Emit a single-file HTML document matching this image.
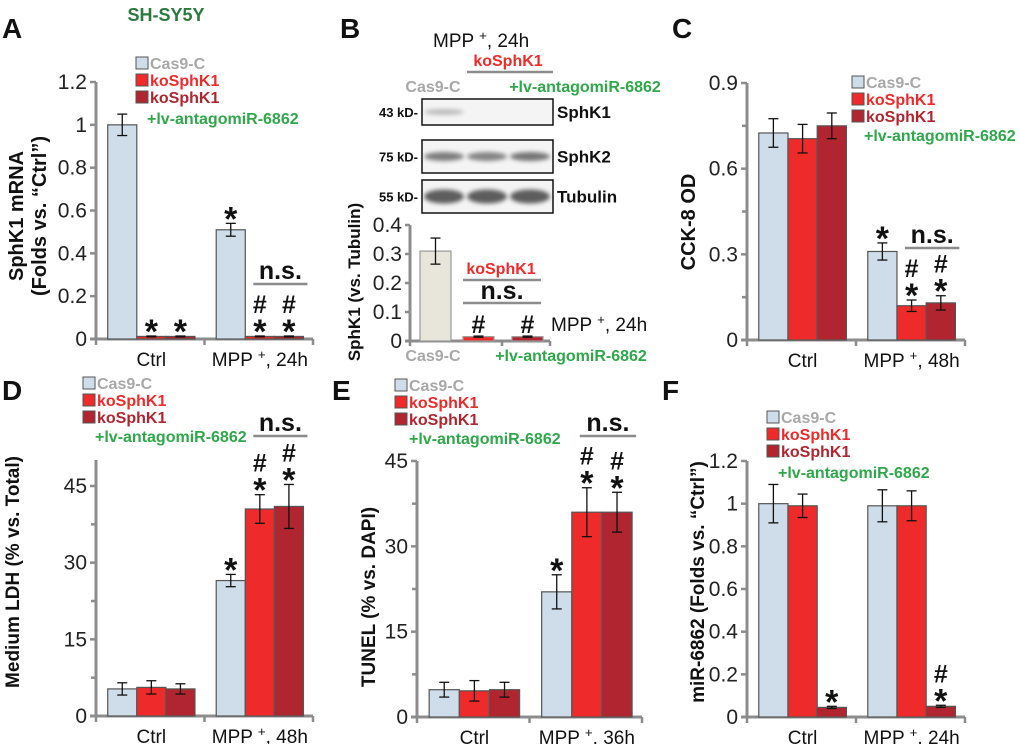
<!DOCTYPE html>
<html><head><meta charset="utf-8">
<style>
html,body{margin:0;padding:0;background:#fff;}
svg{display:block;font-family:"Liberation Sans",Arial,sans-serif;}
</style></head>
<body>
<svg id="fig" width="1020" height="744" viewBox="0 0 1020 744" xmlns="http://www.w3.org/2000/svg">
<defs><filter id="bl" x="-20%" y="-50%" width="140%" height="200%"><feGaussianBlur stdDeviation="2.2"/></filter></defs>
</svg>
<script>
// ---------- data ----------
const groupsA = ["Ctrl", "MPP+, 24h"];
const valsA = [1.0, 0.012, 0.012, 0.51, 0.012, 0.012];
const errA = [0.05, 0.002, 0.002, 0.03, 0.002, 0.002];
const ticksA = [0, 0.2, 0.4, 0.6, 0.8, 1, 1.2];
const marksA = ["", "*", "*", "*", "#*", "#*"];

const catsB = ["Cas9-C", "koSphK1", "koSphK1+lv-antagomiR-6862"];
const valsB = [0.31, 0.015, 0.015];
const errB = [0.045, 0.002, 0.002];
const ticksB = [0, 0.1, 0.2, 0.3, 0.4];
const marksB = ["", "#", "#"];

const groupsC = ["Ctrl", "MPP+, 48h"];
const valsC = [0.725, 0.705, 0.75, 0.31, 0.12, 0.13];
const errC = [0.05, 0.05, 0.045, 0.03, 0.02, 0.025];
const ticksC = [0, 0.3, 0.6, 0.9];
const marksC = ["", "", "", "*", "#*", "#*"];

const groupsD = ["Ctrl", "MPP+, 48h"];
const valsD = [5.3, 5.6, 5.3, 26.5, 40.5, 41];
const errD = [1.2, 1.3, 1.0, 1.2, 2.8, 4.3];
const ticksD = [0, 15, 30, 45];
const marksD = ["", "", "", "*", "#*", "#*"];

const groupsE = ["Ctrl", "MPP+, 36h"];
const valsE = [4.8, 4.6, 4.8, 22, 36, 36];
const errE = [1.3, 1.8, 1.3, 3, 4.3, 3.5];
const ticksE = [0, 15, 30, 45];
const marksE = ["", "", "", "*", "#*", "#*"];

const groupsF = ["Ctrl", "MPP+, 24h"];
const valsF = [1.0, 0.99, 0.045, 0.99, 0.99, 0.05];
const errF = [0.09, 0.055, 0.005, 0.075, 0.07, 0.005];
const ticksF = [0, 0.2, 0.4, 0.6, 0.8, 1, 1.2];
const marksF = ["", "", "*", "", "", "#*"];

// ---------- helpers ----------
const NS = "http://www.w3.org/2000/svg";
const svg = document.getElementById("fig");
const COLORS = ["#cfdce9", "#ee2a2a", "#b0252f"];
const GREEN = "#2ea84a", GRAY = "#a8a8a8", AX = "#8c8c8c";
function el(tag, attrs, parent, text) {
  const e = document.createElementNS(NS, tag);
  for (const k in attrs) e.setAttribute(k, attrs[k]);
  if (text !== undefined) e.textContent = text;
  (parent || svg).appendChild(e);
  return e;
}
function grp(name, parent) {
  const g = el("g", {}, parent);
  
  
  return g;
}
function mppLabel(g, x, y, txt, size, anchor) {
  const parts = txt.split("+");
  const t = el("text", {x: x, y: y, "font-size": size, "text-anchor": anchor || "middle", fill: "#111"}, g);
  if (parts.length > 1) {
    el("tspan", {}, t, parts[0] + " ");
    el("tspan", {dy: -7, "font-size": size * 0.7}, t, "+");
    el("tspan", {dy: 7}, t, parts[1]);
  } else t.textContent = txt;
  return t;
}
function yLabel(g, x, y, lines, size) {
  const fs = size || 19;
  lines.forEach((l, i) => {
    const t = el("text", {x: 0, y: 0, "font-size": fs, "font-weight": "bold", "text-anchor": "middle", fill: "#111",
      transform: `translate(${x + fs * 0.36 + i * 23},${y}) rotate(-90)`}, g, l);
    
    
  });
}
function legend(g, x, y) {
  const items = [["Cas9-C", GRAY, COLORS[0]], ["koSphK1", "#ee2a2a", COLORS[1]], ["koSphK1", "#b0252f", COLORS[2]]];
  items.forEach((it, i) => {
    const lg = grp("legend-entry", g);
    el("rect", {x: x, y: y + i * 17 - 6, width: 12, height: 12, fill: it[2], stroke: "#555", "stroke-width": 1}, lg);
    el("text", {x: x + 14, y: y + i * 17 + 6, "font-size": 16, "font-weight": "bold", fill: it[1]}, lg, it[0]);
  });
}
function star(g, x, yTop, mark) {
  let base = yTop - 3;
  if (mark.includes("*")) {
    const s = el("text", {x: x, y: base + 10, "font-size": 34, "font-weight": "bold", "text-anchor": "middle", fill: "#111"}, g, "*");
    
    
    base -= 20;
  } else base -= 2;
  if (mark.includes("#")) {
    const h = el("text", {x: x, y: base, "font-size": 25, "font-weight": "bold", "text-anchor": "middle", fill: "#111"}, g, "#");
    
    
  }
}
function chart(c) {
  const g = grp(c.name);
  const y = v => c.y0 - v / c.ymax * (c.y0 - c.yTop);
  const w = c.x1 - c.x0;
  const ya = el("line", {x1: c.x0, y1: c.y0 + 1, x2: c.x0, y2: c.axisTop, stroke: AX, "stroke-width": 3}, g);
   
  const xa = el("line", {x1: c.x0 - 6, y1: c.y0, x2: c.x1, y2: c.y0, stroke: AX, "stroke-width": 3}, g);
   
  c.ticks.forEach(t => {
    el("line", {x1: c.x0 - 6, y1: y(t), x2: c.x0, y2: y(t), stroke: AX, "stroke-width": 2.5}, g);
    const tl = el("text", {x: c.x0 - 9, y: y(t) + 7, "font-size": 21, "text-anchor": "end", fill: "#222"}, g, String(t));
     
    if (c.minor && t < c.ymax) el("line", {x1: c.x0 - 5, y1: y(t + c.minor), x2: c.x0, y2: y(t + c.minor), stroke: AX, "stroke-width": 2.5}, g);
  });
  [c.x0, (c.x0 + c.x1) / 2, c.x1].forEach(xx => el("line", {x1: xx, y1: c.y0, x2: xx, y2: c.y0 + 6, stroke: AX, "stroke-width": 2.5}, g));
  const bw = w * 0.134;
  const bars = [];
  c.groups.forEach((gn, gi) => {
    const cx = c.x0 + w * (gi === 0 ? 0.255 : 0.755);
    const gl = mppLabel(g, cx, c.y0 + 27, gn, 19);
     
    for (let s = 0; s < 3; s++) {
      const i = gi * 3 + s;
      const bx = cx + (s - 1.5) * bw;
      const v = c.vals[i], e = c.err[i];
      const r = el("rect", {x: bx, y: y(v), width: bw, height: c.y0 - y(v), fill: COLORS[s], stroke: "#555", "stroke-width": 1.2}, g);
       
      const ex = bx + bw / 2;
      el("line", {x1: ex, y1: y(v + e), x2: ex, y2: y(v - e), stroke: "#111", "stroke-width": 1.3}, g);
      el("line", {x1: ex - 5, y1: y(v + e), x2: ex + 5, y2: y(v + e), stroke: "#111", "stroke-width": 1.3}, g);
      el("line", {x1: ex - 5, y1: y(v - e), x2: ex + 5, y2: y(v - e), stroke: "#111", "stroke-width": 1.3}, g);
      if (c.marks[i]) star(g, ex, y(v + e), c.marks[i]);
      bars.push({x: bx, w: bw});
    }
  });
  if (c.nsY) {
    const ns = grp("ns-annotation", g);
    el("line", {x1: bars[4].x + 8, y1: c.nsY, x2: bars[5].x + bw + 4, y2: c.nsY, stroke: AX, "stroke-width": 2.5}, ns);
    el("text", {x: (bars[4].x + bars[5].x + bw + 12) / 2, y: c.nsY - 5, "font-size": 25, "font-weight": "bold", "text-anchor": "middle", fill: "#111"}, ns, "n.s.");
  }
  return g;
}
function panelLetter(x, y, L) {
  const t = el("text", {x: x, y: y, "font-size": 28, "font-weight": "bold", fill: "#111"}, svg, L);
  
  
}

// ---------- Panel A ----------
const title = el("text", {x: 166, y: 21, "font-size": 18, "font-weight": "bold", "text-anchor": "middle", fill: "#2a7a3c"}, svg, "SH-SY5Y");
 
panelLetter(2, 38, "A");
const gA = chart({name: "chart-a", groups: groupsA, vals: valsA, err: errA, ticks: ticksA, marks: marksA,
  x0: 96, x1: 313, y0: 339, yTop: 82, ymax: 1.2, axisTop: 82, nsY: 284});
yLabel(gA, 16, 216, ["SphK1 mRNA", "(Folds vs. \u201cCtrl\u201d)"], 20);
legend(gA, 136, 63);
el("text", {x: 147, y: 124, "font-size": 16, "font-weight": "bold", fill: GREEN}, gA, "+lv-antagomiR-6862");

// ---------- Panel B ----------
panelLetter(340, 38, "B");
const gBb = grp("western-blot");
mppLabel(gBb, 433, 47, "MPP+, 24h", 19, "start");
el("text", {x: 508, y: 66, "font-size": 16, "font-weight": "bold", "text-anchor": "middle", fill: "#ee2a2a"}, gBb, "koSphK1");
el("line", {x1: 467, y1: 72, x2: 553, y2: 72, stroke: AX, "stroke-width": 2.5}, gBb);
el("text", {x: 433, y: 92, "font-size": 16, "font-weight": "bold", "text-anchor": "middle", fill: GRAY}, gBb, "Cas9-C");
el("text", {x: 585, y: 92, "font-size": 16, "font-weight": "bold", "text-anchor": "middle", fill: GREEN}, gBb, "+lv-antagomiR-6862");
const blots = [["43 kD-", "SphK1", 99, 26, [0.35, 0, 0]], ["75 kD-", "SphK2", 140, 33, [0.75, 0.7, 0.8]], ["55 kD-", "Tubulin", 180, 33, [0.95, 0.95, 0.95]]];
blots.forEach(b => {
  const bg = grp("blot-" + b[1].toLowerCase(), gBb);
  el("rect", {x: 422, y: b[2], width: 131, height: b[3], fill: "#f4f4f4", stroke: "#111", "stroke-width": 1.5}, bg);
  const cy = b[2] + b[3] / 2;
  [444, 487, 530].forEach((lx, li) => {
    if (b[4][li] > 0) el("ellipse", {cx: lx, cy: cy, rx: 20, ry: b[1] === "SphK1" ? 3 : (b[1] === "Tubulin" ? 7 : 4.5), fill: "#555", opacity: b[4][li], filter: "url(#bl)"}, bg);
  });
  el("text", {x: 418, y: cy + 5, "font-size": 13, "font-weight": "bold", "text-anchor": "end", fill: "#111"}, bg, b[0]);
  el("text", {x: 557, y: cy + 6, "font-size": 17, "font-weight": "bold", fill: "#111"}, bg, b[1]);
});
(function () {
  const g = grp("chart-b");
  const x0 = 410, x1 = 550, y0 = 341, yTop = 225, ymax = 0.4;
  const y = v => y0 - v / ymax * (y0 - yTop);
  el("line", {x1: x0, y1: y0, x2: x0, y2: yTop, stroke: AX, "stroke-width": 3}, g);
  el("line", {x1: x0 - 5, y1: y0, x2: x1, y2: y0, stroke: AX, "stroke-width": 3}, g);
  ticksB.forEach(t => {
    el("line", {x1: x0 - 5, y1: y(t), x2: x0, y2: y(t), stroke: AX, "stroke-width": 2.5}, g);
    const tl = el("text", {x: x0 - 8, y: y(t) + 7, "font-size": 21, "text-anchor": "end", fill: "#222"}, g, String(t));
     
  });
  [x0, 502, x1].forEach(xx => el("line", {x1: xx, y1: y0, x2: xx, y2: y0 + 5, stroke: AX, "stroke-width": 2.5}, g));
  const bxs = [420, 463, 512], bw = 31;
  const fills = ["#e8e5da", COLORS[1], COLORS[2]];
  catsB.forEach((cn, i) => {
    const v = valsB[i], e = errB[i];
    const r = el("rect", {x: bxs[i], y: y(v), width: bw, height: y0 - y(v), fill: fills[i], stroke: "#999", "stroke-width": 1.2}, g);
     
    const ex = bxs[i] + bw / 2;
    el("line", {x1: ex, y1: y(v + e), x2: ex, y2: y(v - e), stroke: "#111", "stroke-width": 1.3}, g);
    el("line", {x1: ex - 5, y1: y(v + e), x2: ex + 5, y2: y(v + e), stroke: "#111", "stroke-width": 1.3}, g);
    el("line", {x1: ex - 5, y1: y(v - e), x2: ex + 5, y2: y(v - e), stroke: "#111", "stroke-width": 1.3}, g);
    if (marksB[i]) star(g, ex, y(v + e) + 2, marksB[i]);
  });
  el("text", {x: 501, y: 274, "font-size": 16, "font-weight": "bold", "text-anchor": "middle", fill: "#ee2a2a"}, g, "koSphK1");
  el("line", {x1: 463, y1: 280, x2: 541, y2: 280, stroke: AX, "stroke-width": 2.5}, g);
  el("text", {x: 502, y: 299, "font-size": 25, "font-weight": "bold", "text-anchor": "middle", fill: "#111"}, g, "n.s.");
  el("line", {x1: 463, y1: 303, x2: 541, y2: 303, stroke: AX, "stroke-width": 2.5}, g);
  mppLabel(g, 551, 331, "MPP+, 24h", 19, "start");
  el("text", {x: 433, y: 361, "font-size": 16, "font-weight": "bold", "text-anchor": "middle", fill: GRAY}, g, "Cas9-C");
  el("text", {x: 571, y: 361, "font-size": 16, "font-weight": "bold", "text-anchor": "middle", fill: GREEN}, g, "+lv-antagomiR-6862");
  yLabel(g, 354, 282, ["SphK1 (vs. Tubulin)"], 17);
})();

// ---------- Panel C ----------
panelLetter(672, 38, "C");
const gC = chart({name: "chart-c", groups: groupsC, vals: valsC, err: errC, ticks: ticksC, marks: marksC, minor: 0.15,
  x0: 747, x1: 965, y0: 340, yTop: 83, ymax: 0.9, axisTop: 83, nsY: 248});
yLabel(gC, 688, 222, ["CCK-8 OD"], 20);
legend(gC, 852, 82);
el("text", {x: 864, y: 141, "font-size": 16, "font-weight": "bold", fill: GREEN}, gC, "+lv-antagomiR-6862");

// ---------- Panel D ----------
panelLetter(2, 400, "D");
const gD = chart({name: "chart-d", groups: groupsD, vals: valsD, err: errD, ticks: ticksD, marks: marksD, minor: 7.5,
  x0: 96, x1: 313, y0: 716, yTop: 486, ymax: 45, axisTop: 460, nsY: 436});
yLabel(gD, 12, 572, ["Medium LDH (% vs. Total)"], 19);
legend(gD, 83, 383);
el("text", {x: 95, y: 442, "font-size": 16, "font-weight": "bold", fill: GREEN}, gD, "+lv-antagomiR-6862");

// ---------- Panel E ----------
panelLetter(332, 400, "E");
const gE = chart({name: "chart-e", groups: groupsE, vals: valsE, err: errE, ticks: ticksE, marks: marksE, minor: 7.5,
  x0: 417, x1: 642, y0: 717, yTop: 461, ymax: 45, axisTop: 461, nsY: 436});
yLabel(gE, 368, 597, ["TUNEL (% vs. DAPI)"], 19);
legend(gE, 395, 385);
el("text", {x: 409, y: 444, "font-size": 16, "font-weight": "bold", fill: GREEN}, gE, "+lv-antagomiR-6862");

// ---------- Panel F ----------
panelLetter(662, 400, "F");
const gF = chart({name: "chart-f", groups: groupsF, vals: valsF, err: errF, ticks: ticksF, marks: marksF,
  x0: 747, x1: 965, y0: 717, yTop: 461, ymax: 1.2, axisTop: 461, nsY: null});
yLabel(gF, 697, 582, ["miR-6862 (Folds vs. \u201cCtrl\u201d)"], 19);
legend(gF, 767, 417);
el("text", {x: 778, y: 478, "font-size": 16, "font-weight": "bold", fill: GREEN}, gF, "+lv-antagomiR-6862");
</script>
</body></html>
